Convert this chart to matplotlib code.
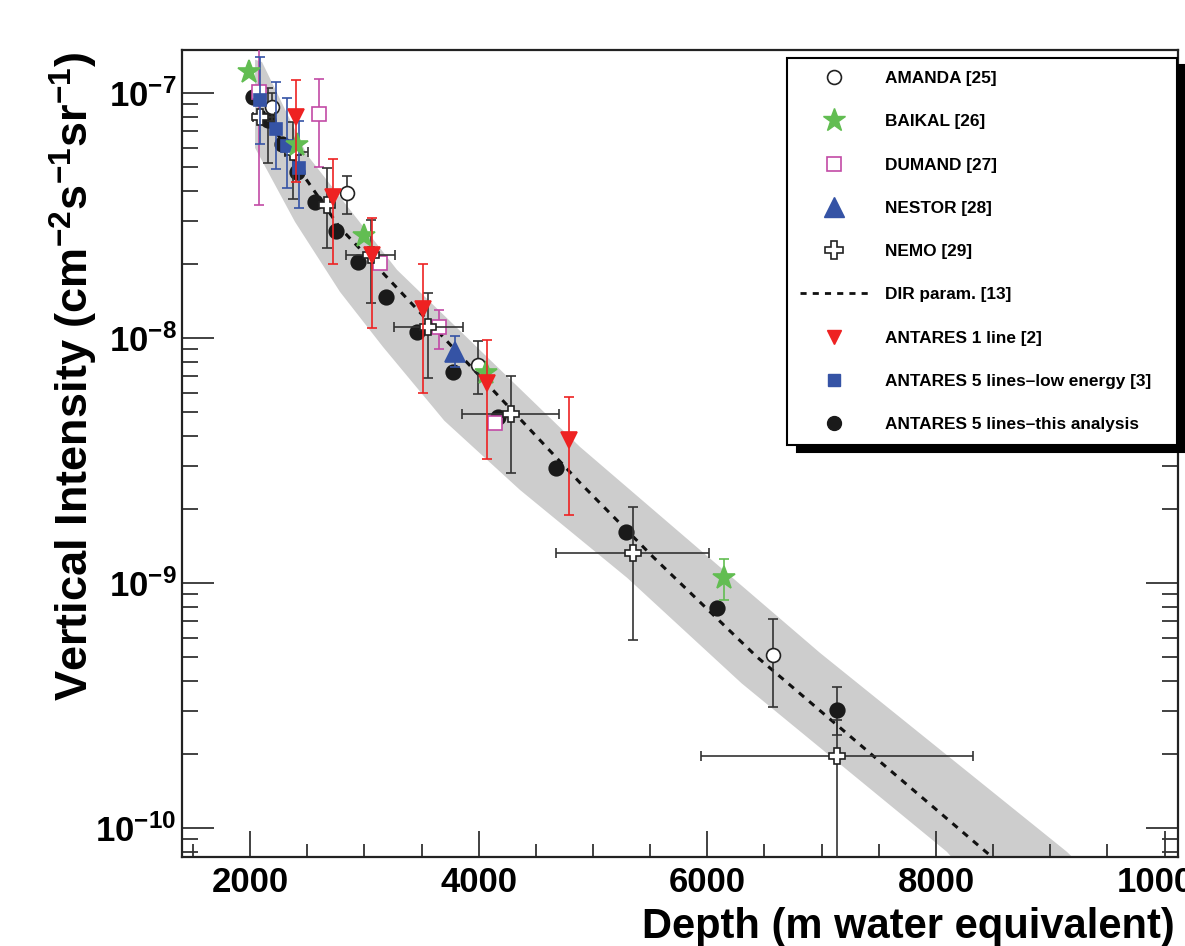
import matplotlib

matplotlib.use('Agg')
import matplotlib.pyplot as plt
import numpy as np
from matplotlib.lines import Line2D
from matplotlib.ticker import MultipleLocator, LogLocator, NullFormatter

plt.rcParams['font.family'] = ['Liberation Sans', 'DejaVu Sans']
plt.rcParams['font.weight'] = 'bold'
plt.rcParams['mathtext.fontset'] = 'custom'
plt.rcParams['mathtext.bf'] = 'Liberation Sans:bold'
plt.rcParams['mathtext.rm'] = 'Liberation Sans:bold'
plt.rcParams['mathtext.default'] = 'bf'

# ANTARES 5 lines - this analysis (black dots)
ant5_x = [2030, 2160, 2280, 2410, 2570, 2750, 2945, 3190, 3460, 3775, 4170, 4675, 5290, 6085, 7135]
ant5_y = [9.66e-8, 7.78e-8, 6.21e-8, 4.77e-8, 3.60e-8, 2.74e-8, 2.05e-8, 1.47e-8, 1.06e-8,
          7.29e-9, 4.77e-9, 2.95e-9, 1.62e-9, 7.93e-10, 3.04e-10]
ant5_lo = [9.66e-8, 5.19e-8, 6.21e-8, 4.77e-8, 3.60e-8, 2.74e-8, 2.05e-8, 1.47e-8, 1.06e-8,
           7.29e-9, 4.77e-9, 2.95e-9, 1.62e-9, 7.93e-10, 2.40e-10]
ant5_hi = [9.66e-8, 1.05e-7, 6.21e-8, 4.77e-8, 3.60e-8, 2.74e-8, 2.05e-8, 1.47e-8, 1.06e-8,
           7.29e-9, 4.77e-9, 2.95e-9, 1.62e-9, 7.93e-10, 3.77e-10]

# NEMO (open crosses, x and y errors)
nemo_x = [2087, 2376, 2673, 3058, 3557, 4283, 5350, 7134]
nemo_y = [8.0e-8, 5.75e-8, 3.50e-8, 2.19e-8, 1.11e-8, 4.91e-9, 1.33e-9, 1.97e-10]
nemo_lo = [8.0e-8, 3.70e-8, 2.34e-8, 1.39e-8, 6.89e-9, 2.82e-9, 5.87e-10, 1e-11]
nemo_hi = [8.0e-8, 7.64e-8, 4.95e-8, 3.04e-8, 1.53e-8, 7.02e-9, 2.05e-9, 2.77e-10]
nemo_xlo = [2026, 2306, 2673, 2840, 3260, 3854, 4676, 5945]
nemo_xhi = [2220, 2507, 2673, 3268, 3863, 4703, 6015, 8324]

# ANTARES 1 line (red down triangles)
ant1_x = [2402, 2726, 3067, 3513, 4073, 4790]
ant1_y = [8.0e-8, 3.77e-8, 2.19e-8, 1.317e-8, 6.57e-9, 3.85e-9]
ant1_lo = [4.35e-8, 2.01e-8, 1.10e-8, 5.98e-9, 3.22e-9, 1.90e-9]
ant1_hi = [1.133e-7, 5.39e-8, 3.10e-8, 2.01e-8, 9.84e-9, 5.76e-9]

# ANTARES 5 lines - low energy (blue squares)
low_x = [2087, 2227, 2324, 2429]
low_y = [9.39e-8, 7.15e-8, 6.09e-8, 4.95e-8]
low_lo = [6.21e-8, 4.91e-8, 4.11e-8, 3.40e-8]
low_hi = [1.41e-7, 1.112e-7, 9.57e-8, 7.71e-8]

# DUMAND (open magenta squares)
dum_x = [2079, 2604, 3137, 3653, 4143]
dum_y = [1.012e-7, 8.23e-8, 2.03e-8, 1.11e-8, 4.51e-9]
dum_lo = [3.50e-8, 5.0e-8, 2.03e-8, 9.04e-9, 4.51e-9]
dum_hi = [1.55e-7, 1.144e-7, 2.03e-8, 1.305e-8, 4.51e-9]

# BAIKAL (green stars)
bai_x = [1991, 2411, 2997, 4064, 6146]
bai_y = [1.22e-7, 6.14e-8, 2.62e-8, 7.22e-9, 1.053e-9]
bai_lo = [1.22e-7, 6.14e-8, 2.62e-8, 7.22e-9, 8.55e-10]
bai_hi = [1.22e-7, 6.14e-8, 2.62e-8, 7.22e-9, 1.257e-9]

# NESTOR (blue triangle)
nes_x = [3793]
nes_y = [8.79e-9]
nes_lo = [7.6e-9]
nes_hi = [1.022e-8]

# AMANDA (open circles)
ama_x = [2192, 2848, 3994, 6574]
ama_y = [8.79e-8, 3.92e-8, 7.78e-9, 5.1e-10]
ama_lo = [7.71e-8, 3.22e-8, 5.92e-9, 3.13e-10]
ama_hi = [1.0e-7, 4.60e-8, 9.75e-9, 7.15e-10]

# DIR parametrisation (dashed) and its uncertainty band
dir_x = [2052, 2464, 2787, 3137, 4886, 5525, 6434, 8385, 8600]
dir_y = [9.39e-8, 4.64e-8, 2.82e-8, 1.90e-8, 2.57e-9, 1.28e-9, 5.0e-10, 8.39e-11, 6.9e-11]
band_up_x = [2044, 2105, 2499, 3286, 4886, 6986, 9146, 9300]
band_up_y = [1.37e-7, 1.34e-7, 5.60e-8, 1.90e-8, 3.60e-9, 5.19e-10, 8.0e-11, 6.8e-11]
band_lo_x = [2044, 2394, 2787, 3163, 3700, 4362, 5300, 6300, 8096, 8250]
band_lo_y = [5.98e-8, 2.98e-8, 1.545e-8, 9.21e-9, 4.6e-9, 2.40e-9, 1.05e-9, 3.9e-10, 8.0e-11, 6.6e-11]


def draw_points(ax, x, y, lo, hi, marker, ms, mfc, mec, ecolor, z, xlo=None, xhi=None, mew=1.2):
    x = np.asarray(x, float)
    y = np.asarray(y, float)
    yerr = np.vstack([y - np.asarray(lo), np.asarray(hi) - y])
    xerr = None
    if xlo is not None:
        xerr = np.vstack([x - np.asarray(xlo), np.asarray(xhi) - x])
    ax.errorbar(x, y, yerr=yerr, xerr=xerr, fmt='none', ecolor=ecolor, elinewidth=1.2,
                capsize=3.5, capthick=1.2, zorder=z)
    ax.plot(x, y, ls='none', marker=marker, ms=ms, mfc=mfc, mec=mec, mew=mew, zorder=z + 0.5)


fig = plt.figure(figsize=(11.85, 9.46), dpi=100)
ax = fig.add_axes([0.1536, 0.0946, 0.8405, 0.8525])
ax.set_yscale('log')

# band
poly_x = list(band_up_x) + list(band_lo_x[::-1])
poly_y = list(band_up_y) + list(band_lo_y[::-1])
ax.fill(poly_x, poly_y, color='#cdcdcd', lw=0, zorder=1)
ax.plot(dir_x, dir_y, color='#111111', lw=2.2, ls=(0, (2.2, 2.2)), zorder=2)

ek = '#333333'
draw_points(ax, ant5_x, ant5_y, ant5_lo, ant5_hi, 'o', 10.5, '#1a1a1a', '#1a1a1a', ek, 3)
draw_points(ax, ama_x, ama_y, ama_lo, ama_hi, 'o', 10, 'white', '#222222', ek, 4)
draw_points(ax, dum_x, dum_y, dum_lo, dum_hi, 's', 10.5, 'white', '#c24aa6', '#c24aa6', 4)
draw_points(ax, nes_x, nes_y, nes_lo, nes_hi, '^', 14, '#3553a5', '#3553a5', '#3553a5', 5)
draw_points(ax, nemo_x, nemo_y, nemo_lo, nemo_hi, 'P', 12, 'white', '#222222', ek, 6,
            xlo=nemo_xlo, xhi=nemo_xhi)
draw_points(ax, low_x, low_y, low_lo, low_hi, 's', 9, '#3553a5', '#3553a5', '#3553a5', 7)
draw_points(ax, bai_x, bai_y, bai_lo, bai_hi, '*', 17, '#62bd52', '#62bd52', '#62bd52', 8)
draw_points(ax, ant1_x, ant1_y, ant1_lo, ant1_hi, 'v', 11, '#ee2222', '#ee2222', '#ee2222', 9)

ax.set_xlim(1405, 10117)
ax.set_ylim(7.66e-11, 1.50e-7)

ax.xaxis.set_major_locator(MultipleLocator(2000))
ax.xaxis.set_minor_locator(MultipleLocator(500))
ax.set_yticks([1e-10, 1e-9, 1e-8, 1e-7])
ax.set_yticklabels([r'$10^{-10}$', r'$10^{-9}$', r'$10^{-8}$', r'$10^{-7}$'])
ax.yaxis.set_minor_locator(LogLocator(base=10, subs=np.arange(2, 10)))
ax.yaxis.set_minor_formatter(NullFormatter())

ax.tick_params(axis='both', which='both', direction='in', color='#333333', width=1.3)
ax.tick_params(axis='x', which='major', length=19, pad=7, labelsize=25)
ax.tick_params(axis='x', which='minor', length=9.5)
ax.tick_params(axis='y', which='major', length=23, pad=4, labelsize=25, right=True)
ax.tick_params(axis='y', which='minor', length=11.5, right=True)
for s in ax.spines.values():
    s.set_linewidth(1.6)
    s.set_color('#222222')

fig.text(1175 / 1185, (946 - 938) / 946, 'Depth (m water equivalent)', ha='right', va='baseline',
         fontsize=30, fontweight='bold')
fig.text(74 / 1185, 1 - 376 / 946, r'Vertical Intensity (cm$^{-2}$s$^{-1}$sr$^{-1}$)',
         rotation=90, ha='center', va='center', fontsize=32.5, fontweight='bold')

handles = [
    Line2D([], [], ls='none', marker='o', ms=10, mfc='white', mec='#222222', mew=1.2, label='AMANDA [25]'),
    Line2D([], [], ls='none', marker='*', ms=17, mfc='#62bd52', mec='#62bd52', label='BAIKAL [26]'),
    Line2D([], [], ls='none', marker='s', ms=10.5, mfc='white', mec='#c24aa6', mew=1.2, label='DUMAND [27]'),
    Line2D([], [], ls='none', marker='^', ms=15, mfc='#3553a5', mec='#3553a5', label='NESTOR [28]'),
    Line2D([], [], ls='none', marker='P', ms=13, mfc='white', mec='#222222', mew=1.2, label='NEMO [29]'),
    Line2D([], [], color='#111111', lw=2.0, ls=(0, (2.2, 2.2)), label='DIR param. [13]'),
    Line2D([], [], ls='none', marker='v', ms=10, mfc='#ee2222', mec='#ee2222', label='ANTARES 1 line [2]'),
    Line2D([], [], ls='none', marker='s', ms=8.5, mfc='#3553a5', mec='#3553a5',
           label='ANTARES 5 lines\u2013low energy [3]'),
    Line2D([], [], ls='none', marker='o', ms=10, mfc='#1a1a1a', mec='#1a1a1a',
           label='ANTARES 5 lines\u2013this analysis'),
]
leg = ax.legend(handles=handles, loc='upper left',
                bbox_to_anchor=(787 / 1185, 1 - 447 / 946, 390 / 1185, (447 - 58) / 946),
                bbox_transform=fig.transFigure, mode='expand', borderaxespad=0,
                fontsize=12.4, labelspacing=1.64, borderpad=0.75, handlelength=4.0,
                handletextpad=0.95, fancybox=False, framealpha=1,
                shadow={'ox': 7, 'oy': -5, 'facecolor': 'black', 'edgecolor': 'black', 'alpha': 1})
leg.get_frame().set_edgecolor('black')
leg.get_frame().set_linewidth(1.5)
leg.set_zorder(20)

fig.savefig('out.png', dpi=100)
